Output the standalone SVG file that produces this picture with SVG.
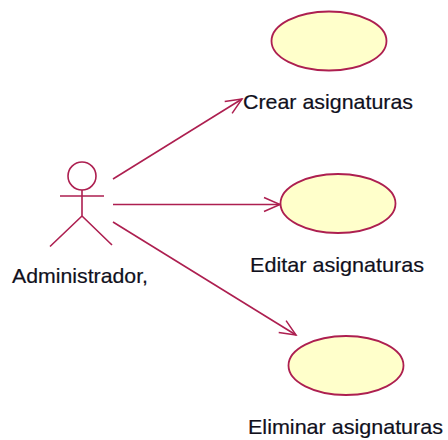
<svg xmlns="http://www.w3.org/2000/svg" width="448" height="440" viewBox="0 0 448 440">
<style>
.l{fill:none;stroke:#ad1f50;stroke-width:1.6}
.u{fill:#ffffcb;stroke:#ad1f50;stroke-width:1.8}
text{font-family:"Liberation Sans",Arial,sans-serif;font-size:21px;fill:#10101c;stroke:#10101c;stroke-width:.2}
</style>
<defs>
<marker id="a" markerUnits="userSpaceOnUse" markerWidth="20" markerHeight="20" refX="17" refY="9" orient="auto">
<path d="M1 2L17 9L1 16" fill="none" stroke="#ad1f50" stroke-width="1.5"/>
</marker>
</defs>
<rect width="448" height="440" fill="#fff"/>
<g id="connectors">
<path class="l" d="M113 179L242 99" marker-end="url(#a)"/>
<path class="l" d="M113 204.500L280 204.500" marker-end="url(#a)"/>
<path class="l" d="M113 222L296 335" marker-end="url(#a)"/>
</g>
<g id="actor">
<circle class="l" cx="82" cy="176" r="14"/>
<path class="l" d="M60 196H104M82 190V216M82 216L50 246.500M82 216L112 245"/>
<text x="12" y="283" textLength="136" lengthAdjust="spacingAndGlyphs">Administrador,</text>
</g>
<g id="uc1">
<ellipse class="u" cx="329" cy="41" rx="57.500" ry="29.500"/>
<text x="243" y="109" textLength="170" lengthAdjust="spacingAndGlyphs">Crear asignaturas</text>
</g>
<g id="uc2">
<ellipse class="u" cx="338" cy="203.500" rx="57.500" ry="29.500"/>
<text x="250" y="272" textLength="174" lengthAdjust="spacingAndGlyphs">Editar asignaturas</text>
</g>
<g id="uc3">
<ellipse class="u" cx="346" cy="365.500" rx="57.500" ry="29.500"/>
<text x="248" y="434" textLength="195" lengthAdjust="spacingAndGlyphs">Eliminar asignaturas</text>
</g>
</svg>
